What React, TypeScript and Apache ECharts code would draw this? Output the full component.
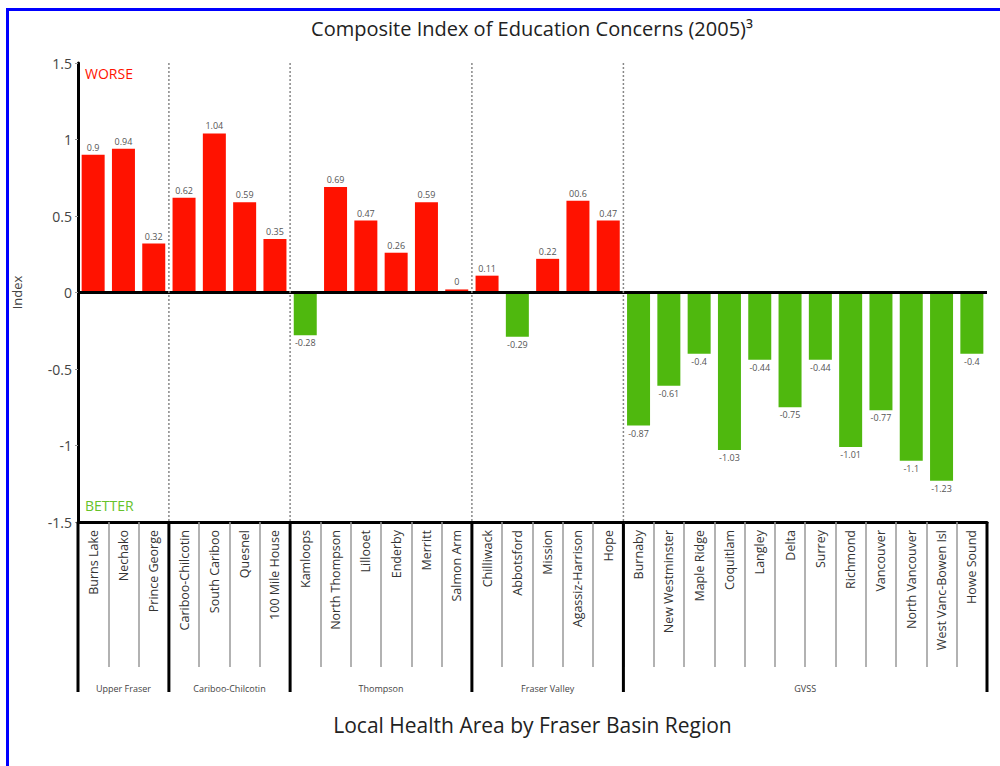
import React, { useEffect, useRef } from "react";
import * as echarts from "echarts";

const categories = [
  "Burns Lake", "Nechako", "Prince George",
  "Cariboo-Chilcotin", "South Cariboo", "Quesnel", "100 Mile House",
  "Kamloops", "North Thompson", "Lillooet", "Enderby", "Merritt", "Salmon Arm",
  "Chilliwack", "Abbotsford", "Mission", "Agassiz-Harrison", "Hope",
  "Burnaby", "New Westminster", "Maple Ridge", "Coquitlam", "Langley", "Delta",
  "Surrey", "Richmond", "Vancouver", "North Vancouver", "West Vanc-Bowen Isl", "Howe Sound",
];
const values = [
  0.9, 0.94, 0.32,
  0.62, 1.04, 0.59, 0.35,
  -0.28, 0.69, 0.47, 0.26, 0.59, 0.02,
  0.11, -0.29, 0.22, 0.6, 0.47,
  -0.87, -0.61, -0.4, -1.03, -0.44, -0.75,
  -0.44, -1.01, -0.77, -1.1, -1.23, -0.4,
];
const valueLabels = [
  "0.9", "0.94", "0.32",
  "0.62", "1.04", "0.59", "0.35",
  "-0.28", "0.69", "0.47", "0.26", "0.59", "0",
  "0.11", "-0.29", "0.22", "00.6", "0.47",
  "-0.87", "-0.61", "-0.4", "-1.03", "-0.44", "-0.75",
  "-0.44", "-1.01", "-0.77", "-1.1", "-1.23", "-0.4",
];
const groups = ["Upper Fraser", "Cariboo-Chilcotin", "Thompson", "Fraser Valley", "GVSS"];
const groupSizes = [3, 4, 6, 5, 12];

const FONT = "'Open Sans', 'Noto Sans', sans-serif";
const RED = "#ff1200";
const GREEN = "#4fb80e";

export default function App() {
  const ref = useRef<HTMLDivElement>(null);
  useEffect(() => {
    if (!ref.current) return;
    const chart = echarts.init(ref.current, null, { renderer: "svg" });
    const option: any = {
      animation: false,
      backgroundColor: "#fff",
      textStyle: { fontFamily: FONT },
      title: {
        text: "Composite Index of Education Concerns (2005)³",
        left: 527,
        textAlign: "center",
        top: 13,
        textStyle: { fontFamily: FONT, fontSize: 20, fontWeight: "normal", color: "#222" },
      },
      grid: { left: 78, right: 13, top: 63, bottom: 244, containLabel: false },
      xAxis: {
        type: "category",
        data: categories,
        position: "bottom",
        axisLine: { onZero: false, lineStyle: { color: "#000", width: 3 } },
        axisTick: { show: true, interval: 0, length: 145, lineStyle: { color: "#999", width: 1.5 } },
        axisLabel: {
          interval: 0,
          rotate: 90,
          margin: 8,
          fontSize: 12.5,
          color: "#333",
          fontFamily: FONT,
        },
        name: "Local Health Area by Fraser Basin Region",
        nameLocation: "middle",
        nameGap: 192,
        nameTextStyle: { fontSize: 21, color: "#222", fontFamily: FONT, verticalAlign: "top" },
      },
      yAxis: {
        type: "value",
        min: -1.5,
        max: 1.5,
        interval: 0.5,
        axisLine: { show: true, lineStyle: { color: "#000", width: 3 } },
        axisTick: { show: true, length: 3, lineStyle: { color: "#999" } },
        splitLine: { show: false },
        axisLabel: { fontSize: 14, color: "#444", margin: 6, fontFamily: FONT },
        name: "Index",
        nameLocation: "middle",
        nameRotate: 90,
        nameGap: 55,
        nameTextStyle: { fontSize: 13, color: "#444", fontFamily: FONT },
      },
      series: [
        {
          type: "bar",
          barWidth: 23,
          data: values.map((v, i) => ({
            value: v,
            itemStyle: { color: v >= 0 ? RED : GREEN },
            label: {
              show: true,
              position: v >= 0 ? "top" : "bottom",
              distance: 3,
              formatter: valueLabels[i],
              fontSize: 9,
              color: "#555",
              fontFamily: FONT,
            },
          })),
          markLine: {
            silent: true,
            symbol: "none",
            label: { show: false },
            lineStyle: { color: "#000", width: 3, type: "solid" },
            data: [{ yAxis: 0 }],
          },
        },
      ],
    };
    chart.setOption(option);

    const cx = (i: number) => chart.convertToPixel({ xAxisIndex: 0 }, i) as number;
    const step = cx(1) - cx(0);
    const boundary = (i: number) => cx(0) - step / 2 + step * i;
    const yTop = chart.convertToPixel({ yAxisIndex: 0 }, 1.5) as number;
    const yBot = chart.convertToPixel({ yAxisIndex: 0 }, -1.5) as number;

    const elements: any[] = [];
    elements.push({ type: "rect", z: 100, shape: { x: 6, y: 8, width: 994, height: 3 }, style: { fill: "#0000ff" } });
    elements.push({ type: "rect", z: 100, shape: { x: 6, y: 8, width: 3, height: 758 }, style: { fill: "#0000ff" } });

    let start = 0;
    const bounds: number[] = [0];
    groupSizes.forEach((n) => {
      start += n;
      bounds.push(start);
    });
    bounds.forEach((b, k) => {
      const x = boundary(b);
      if (k > 0 && k < bounds.length - 1) {
        elements.push({
          type: "line",
          z: 100,
          shape: { x1: x, y1: yTop, x2: x, y2: yBot },
          style: { stroke: "#888", lineWidth: 1.5, lineDash: [2, 2] },
        });
      }
      elements.push({
        type: "line",
        z: 100,
        shape: { x1: x, y1: yBot, x2: x, y2: yBot + 170 },
        style: { stroke: "#000", lineWidth: 3 },
      });
    });
    groups.forEach((g, k) => {
      const x = (boundary(bounds[k]) + boundary(bounds[k + 1])) / 2;
      elements.push({
        type: "text",
        z: 100,
        x,
        y: yBot + 166,
        style: { text: g, fontSize: 9, fill: "#444", fontFamily: FONT, align: "center", verticalAlign: "middle" },
      });
    });
    elements.push({
      type: "text",
      z: 100,
      x: 85,
      y: yTop + 10,
      style: { text: "WORSE", fontSize: 14, fill: RED, fontFamily: FONT, align: "left", verticalAlign: "middle" },
    });
    elements.push({
      type: "text",
      z: 100,
      x: 85,
      y: yBot - 17,
      style: { text: "BETTER", fontSize: 14, fill: "#66c22a", fontFamily: FONT, align: "left", verticalAlign: "middle" },
    });
    chart.setOption({ graphic: { elements } });

    return () => chart.dispose();
  }, []);
  return <div ref={ref} style={{ width: 1000, height: 766, position: "absolute", left: 0, top: 0 }} />;
}
